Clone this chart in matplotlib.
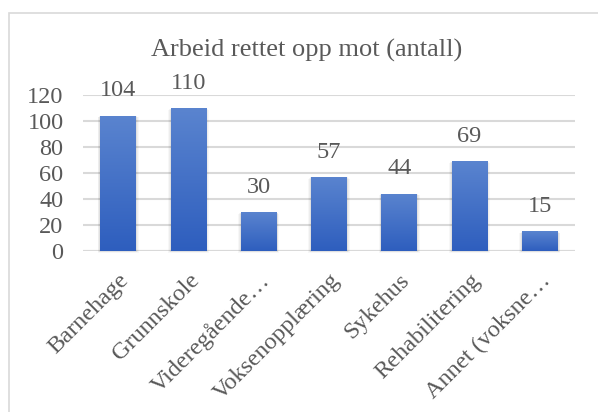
import numpy as np
import matplotlib.pyplot as plt
from matplotlib.patches import Rectangle
from matplotlib.colors import LinearSegmentedColormap
from matplotlib.transforms import ScaledTranslation

categories = ['Barnehage', 'Grunnskole', 'Videregående…', 'Voksenopplæring',
              'Sykehus', 'Rehabilitering', 'Annet (voksne…']
values = [104, 110, 30, 57, 44, 69, 15]
yticks = [0, 20, 40, 60, 80, 100, 120]

plt.rcParams['font.family'] = ['Liberation Serif', 'DejaVu Serif']
txt = '#595959'

fig = plt.figure(figsize=(5.98, 4.12), dpi=100)
# outer chart frame (clipped on right/bottom like the screenshot)
fig.patches.append(Rectangle((9/598, -0.05), 1.0, 1 - 13/412 + 0.05, transform=fig.transFigure,
                             fill=False, edgecolor='#D9D9D9', lw=1.2))

ax = fig.add_axes([83/598, 1 - 251/412, (575-83)/598, (251-95)/412])

x = np.arange(len(categories))
w = 0.51
grad = np.linspace(0, 1, 256).reshape(-1, 1)
cmap = LinearSegmentedColormap.from_list('g', ['#2E5EBE', '#5A84CF'])
bars = ax.bar(x, values, width=w, color='none', zorder=3)
for b, v in zip(bars, values):
    bx = b.get_x()
    # soft shadow
    for i, a in enumerate([0.05, 0.04, 0.03]):
        d = 0.025 * (i + 1)
        ax.add_patch(Rectangle((bx - d * 0.5, -0.5 * (i + 1)), w + d, v + d * 3,
                               facecolor='k', alpha=a, lw=0, zorder=2, clip_on=False))
    im = ax.imshow(grad, cmap=cmap, aspect='auto', origin='lower',
                   extent=(bx, bx + w, 0, v), zorder=3)
    im.set_clip_path(b)
    ax.text(b.get_x() + w / 2, v + 11, str(v), ha='center', va='bottom',
            fontsize=17.5, color=txt, zorder=4, clip_on=False)

ax.set_xlim(-0.5, len(categories) - 0.5)
ax.set_ylim(0, 120)
ax.set_yticks(yticks)
ax.yaxis.grid(True, color='#D9D9D9', lw=1.5, zorder=0)
ax.set_axisbelow(True)
for s in ax.spines.values():
    s.set_visible(False)
ax.axhline(0, color='#D9D9D9', lw=1.5, zorder=1)
ax.tick_params(length=0, labelsize=17.5, colors=txt)
ax.set_xticks(x)
ax.set_xticklabels(categories, rotation=45, ha='right', rotation_mode='anchor')
ax.tick_params(axis='x', pad=10)
ax.tick_params(axis='y', pad=14)
shift = ScaledTranslation(0, -5/100, fig.dpi_scale_trans)
for lab in ax.get_xticklabels():
    lab.set_transform(lab.get_transform() + shift)

fig.text(0.513, 1 - 57/412, 'Arbeid rettet opp mot (antall)', ha='center', va='baseline',
         fontsize=19, color=txt)

fig.savefig('out.png', dpi=100)
